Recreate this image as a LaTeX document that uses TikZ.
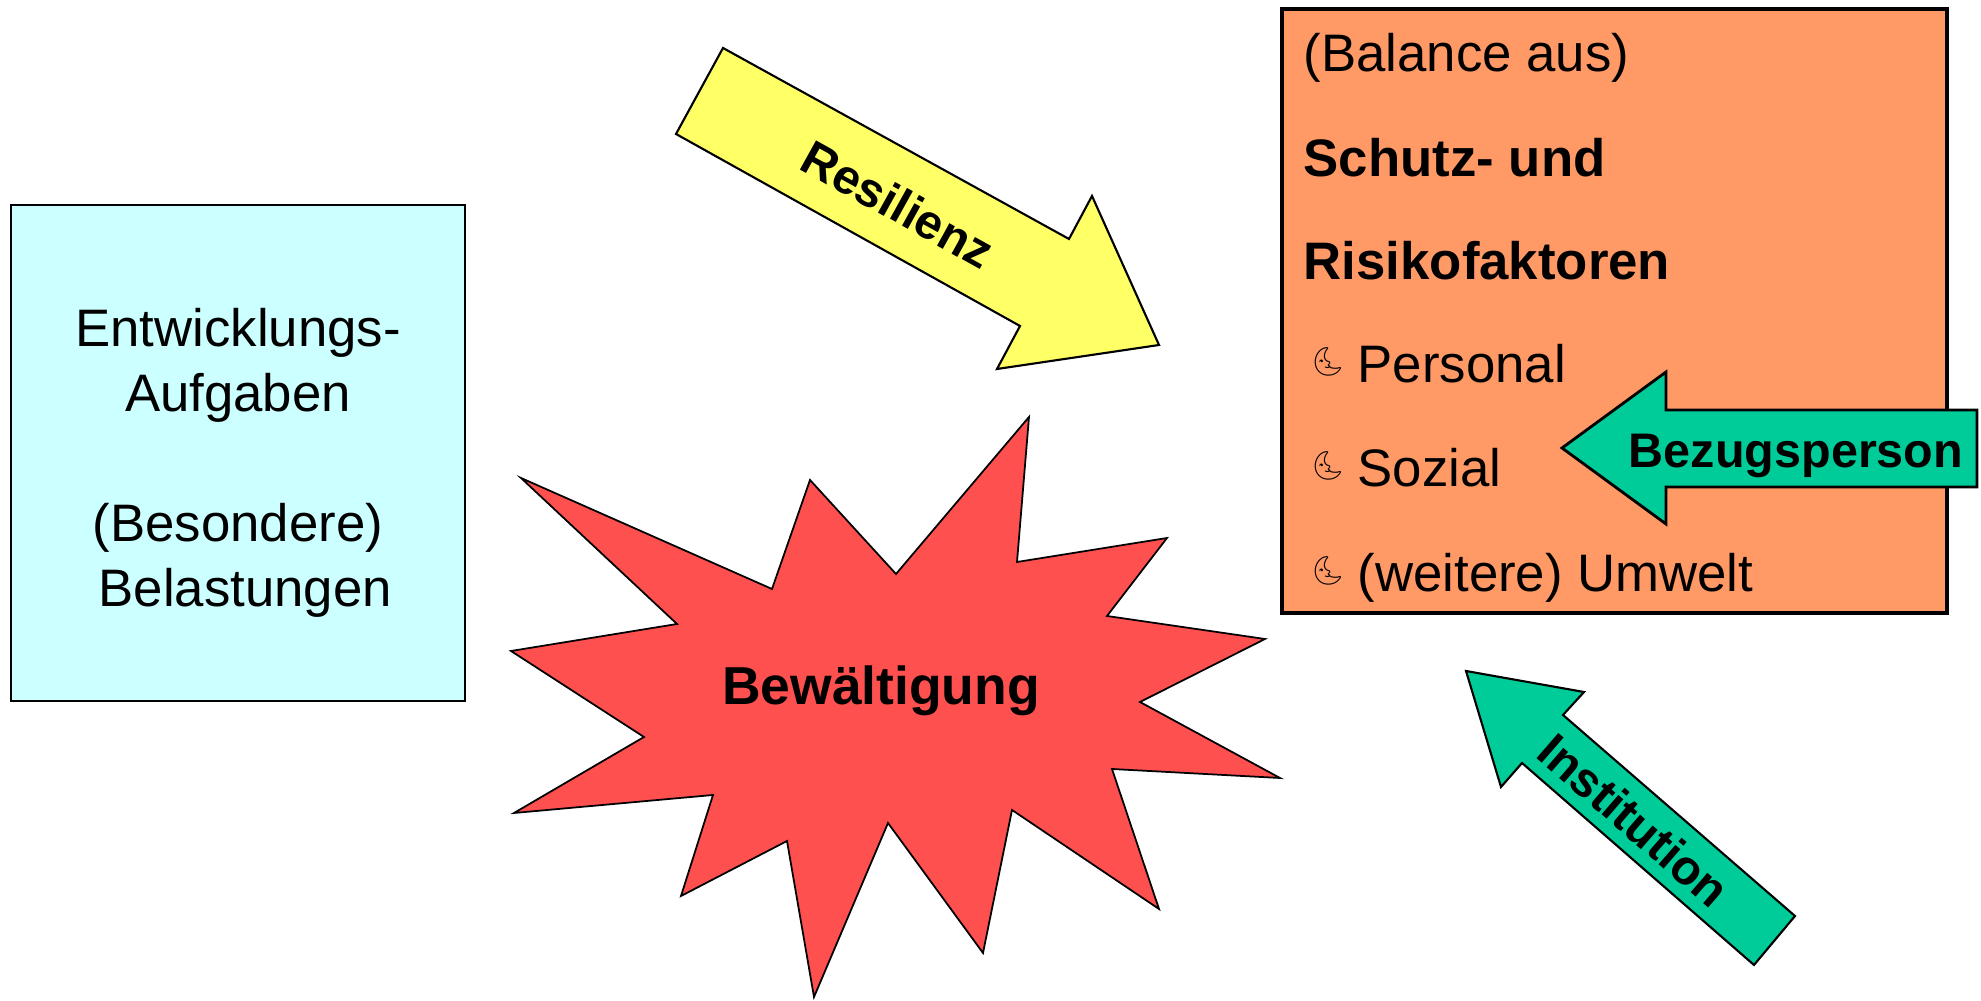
\documentclass[tikz,border=0pt]{standalone}
\usepackage{fontspec}
\setmainfont{Liberation Sans}
\newfontfamily\moonfont{Noto Emoji}
\usepackage{tikz}

\definecolor{taskblue}{HTML}{CCFFFF}
\definecolor{factororange}{HTML}{FF9966}
\definecolor{resyellow}{HTML}{FFFF66}
\definecolor{copingred}{HTML}{FF5050}
\definecolor{helpgreen}{HTML}{00CC99}

\begin{document}
\begin{tikzpicture}[x=0.01cm, y=-0.01cm,
    plate/.style={draw=black, line width=0.6pt},
    bigarrow/.style={draw=black, line width=0.6pt, line join=miter},
    arrowtext/.style={font=\fontsize{13.8}{16}\selectfont\bfseries, inner sep=0pt},
    boxtext/.style={font=\fontsize{15}{18}\selectfont, inner sep=0pt, anchor=base west},
    moonmark/.style={font=\moonfont\fontsize{8}{8}\selectfont, inner sep=0pt}]
    \useasboundingbox (0,0) rectangle (1981,1001);

    % left box
    \draw[plate, fill=taskblue] (11,205) rectangle
    node[align=center, yshift=-2.9pt, font=\fontsize{15}{18.5}\selectfont] (tasks)
    {Entwicklungs-\\Aufgaben\\[18.5pt](Besondere)\\\ Belastungen} (465,701);

    % right box
    \draw[plate, line width=0.9pt, fill=factororange] (1282,9) rectangle (1947,613);
    \node[boxtext] (balance) at (1303,72) {(Balance aus)};
    \node[boxtext, font=\fontsize{15}{18}\selectfont\bfseries] (schutz) at (1303,177) {Schutz- und};
    \node[boxtext, font=\fontsize{15}{18}\selectfont\bfseries] (risiko) at (1303,280) {Risikofaktoren};
    \node[moonmark] (moonA) at (1328,362) {\symbol{"1F31C}};
    \node[boxtext] (personal) at (1357,383) {Personal};
    \node[moonmark] (moonB) at (1328,466) {\symbol{"1F31C}};
    \node[boxtext] (sozial) at (1357,487) {Sozial};
    \node[moonmark] (moonC) at (1328,571) {\symbol{"1F31C}};
    \node[boxtext] (umwelt) at (1357,592) {(weitere) Umwelt};

    % star
    \draw[plate, line width=0.5pt, fill=copingred]
    (521,478) -- (772,589) -- (810,480) -- (896,574) -- (1029,417) -- (1017,562)
    -- (1167,538) -- (1107,616) -- (1265,639) -- (1140,702) -- (1280,778) -- (1112,769)
    -- (1159,909) -- (1012,810) -- (983,953) -- (888,823) -- (814,997) -- (787,841)
    -- (681,896) -- (713,795) -- (514,813) -- (644,737) -- (511,651) -- (677,624) -- cycle;
    \node[arrowtext, font=\fontsize{15.2}{18}\selectfont\bfseries, anchor=base] (coping) at (881,705) {Bewältigung};

    % arrows
    \draw[bigarrow, fill=resyellow] (723,48) -- (1069,239) -- (1092,196) -- (1159,345)
    -- (997,369) -- (1020,326) -- (676,134) -- cycle;
    \node[arrowtext, rotate=-29] (resilienz) at (898,204) {Resilienz};

    \draw[bigarrow, line width=0.8pt, fill=helpgreen] (1562,448) -- (1666,372) -- (1666,410)
    -- (1977,410) -- (1977,487) -- (1666,487) -- (1666,524) -- cycle;
    \node[arrowtext, anchor=base] (bezug) at (1796,468) {Bezugsperson};

    \draw[bigarrow, fill=helpgreen] (1466,671) -- (1584,692) -- (1563,715) -- (1795,916)
    -- (1754,965) -- (1522,763) -- (1501,787) -- cycle;
    \node[arrowtext, rotate=-41] (institution) at (1634,820) {Institution};
  \end{tikzpicture}
\end{document}
